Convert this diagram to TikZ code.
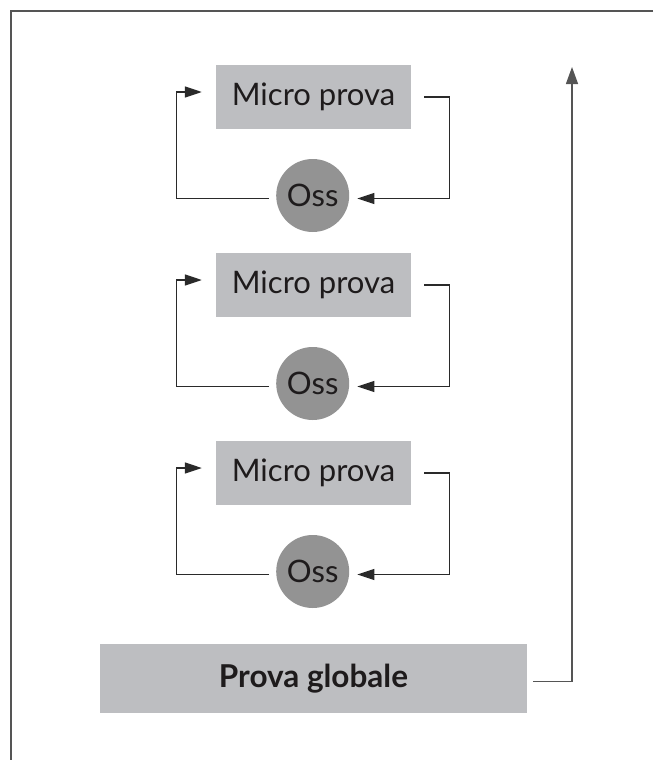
\documentclass[tikz,border=0pt]{standalone}
\usepackage{fontspec}
\setmainfont{Lato}
\usetikzlibrary{arrows.meta,calc}
\definecolor{boxgray}{HTML}{BDBEC1}
\definecolor{dotgray}{HTML}{939393}
\definecolor{framegray}{HTML}{555555}
\definecolor{ink}{HTML}{1E1B1C}
\definecolor{wire}{HTML}{2A2A2A}
\begin{document}
\begin{tikzpicture}[x=1pt,y=-1pt,
  stepbox/.style={fill=boxgray, minimum width=195pt, minimum height=64pt,
    inner sep=0pt, text=ink, font=\fontsize{31}{31}\selectfont},
  globalbox/.style={fill=boxgray, minimum width=427pt, minimum height=69pt,
    inner sep=0pt, text=ink, font=\fontsize{31.5}{31.5}\selectfont\bfseries},
  obs/.style={circle, fill=dotgray, minimum size=73pt, inner sep=0pt,
    text=ink, font=\fontsize{31}{31}\selectfont},
  conn/.style={draw=wire, line width=1.3pt},
  looptip/.style={-{Triangle[length=17pt,width=11pt]}},
  bigtip/.style={-{Triangle[length=17pt,width=12pt]}}
]
\useasboundingbox (0,0) rectangle (653,760);
% frame: top and left rules only
\draw[framegray, line width=1.5pt] (653,11) -- (11,11) -- (11,760);

% three micro-test / observation loops
\foreach \k/\dy in {1/0, 2/188, 3/376}{
  \node[stepbox] (m\k) at (313.5, 97+\dy) {Micro prova};
  \node[obs] (o\k) at (312.7, 195.5+\dy) {Oss};
  \draw[conn, looptip] ($(m\k.east)+(13,0)$) -- ++(25,0) |- ($(o\k.east)+(8,3)$);
  \draw[conn, looptip] ($(o\k.west)+(-7,3)$) -| ($(m\k.west)+(-39,-5)$) -- ($(m\k.west)+(-14,-5)$);
}

% global test and its return arrow
\node[globalbox] (g) at (313.5, 678.3) {Prova globale};
\coordinate (gtop) at (572, 67);
\draw[conn, framegray, bigtip] ($(g.east)+(6,3.5)$) -| (gtop);
\end{tikzpicture}
\end{document}
